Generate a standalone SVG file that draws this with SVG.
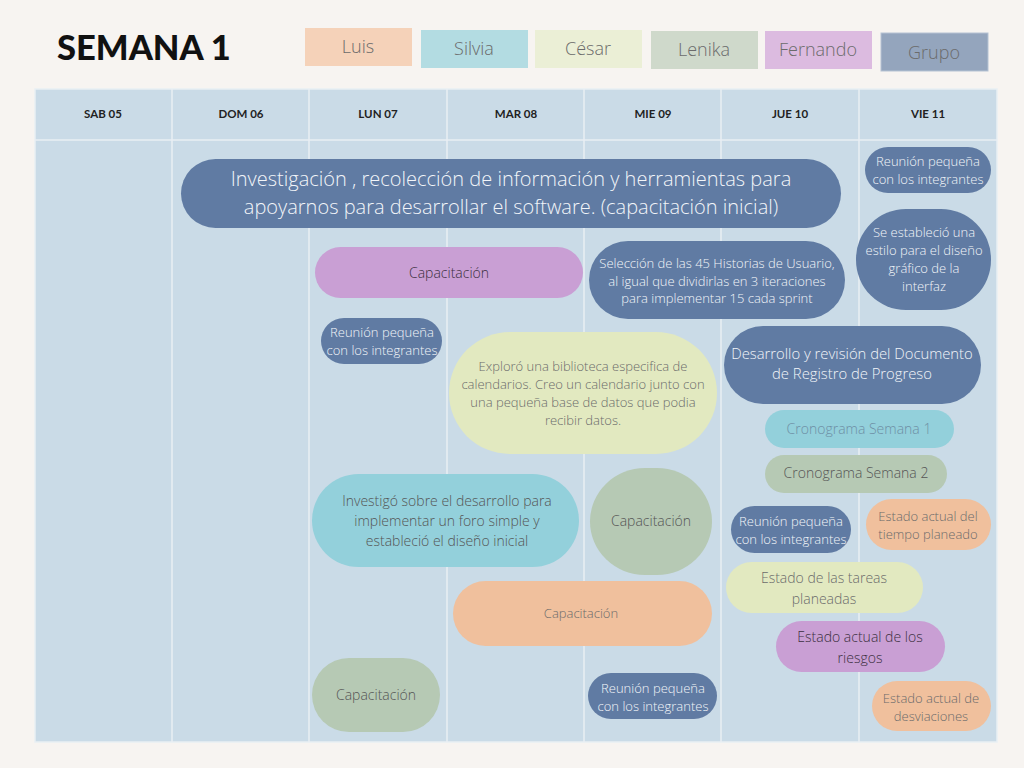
<svg xmlns="http://www.w3.org/2000/svg" width="1024" height="768" viewBox="0 0 1024 768">
<style>
.t{font-family:"Open Sans","Liberation Sans",sans-serif;font-weight:300;text-anchor:middle}
.w{fill:#f2f5f9}
.g{fill:#6b6b6b}
.d{fill:#3b2f40}
.hd{font-family:"Lato","Open Sans","Liberation Sans",sans-serif;font-weight:700;font-size:11.5px;fill:#222;text-anchor:middle}
.grp{fill:#607ba3}
.pur{fill:#c99fd4}
.sil{fill:#93d0db}
.ces{fill:#e2e9c0}
.len{fill:#b6c9b4}
.lui{fill:#f0c09d}
.grid{stroke:#e9eff4;stroke-width:1.5;fill:none}
</style>
<rect width="1024" height="768" fill="#f7f4f1"/>
<text x="57" y="60" font-family="Lato,'Open Sans','Liberation Sans',sans-serif" font-weight="900" font-size="34.5" fill="#111">SEMANA 1</text>
<g id="legend">
<rect x="305" y="28" width="107" height="38" fill="#f5d2b9"/>
<text class="t g" x="358" y="53" font-size="18">Luis</text>
<rect x="421" y="30" width="107" height="38" fill="#b3dce2"/>
<text class="t g" x="474" y="55" font-size="18">Silvia</text>
<rect x="535" y="30" width="107" height="38" fill="#ebefd6"/>
<text class="t g" x="588" y="55" font-size="18">César</text>
<rect x="651" y="31" width="107" height="38" fill="#cfd9cb"/>
<text class="t g" x="704" y="56" font-size="18">Lenika</text>
<rect x="765" y="31" width="107" height="38" fill="#dcbbe0"/>
<text class="t g" x="818" y="56" font-size="18">Fernando</text>
<rect x="881" y="33" width="107" height="38" fill="#94a5bd" stroke="#b5c2d3" stroke-width="1"/>
<text class="t g" x="934" y="59" font-size="18">Grupo</text>
</g>
<g id="table">
<rect x="35" y="89" width="962" height="653" fill="#cadbe7"/>
<path class="grid" d="M35 89H997V742H35Z M35 140H997 M172 89V742 M309 89V742 M447 89V742 M584 89V742 M721 89V742 M859 89V742"/>
<text class="hd" x="103" y="118">SAB 05</text>
<text class="hd" x="241" y="118">DOM 06</text>
<text class="hd" x="378" y="118">LUN 07</text>
<text class="hd" x="516" y="118">MAR 08</text>
<text class="hd" x="653" y="118">MIE 09</text>
<text class="hd" x="790" y="118">JUE 10</text>
<text class="hd" x="928" y="118">VIE  11</text>
</g>
<g id="connectors"/>
<g id="n1">
<rect class="grp" x="181" y="159" width="660" height="69" rx="34.5"/>
<text class="t w" x="511" y="186" font-size="20">Investigación , recolección de información y herramientas para</text>
<text class="t w" x="511" y="214" font-size="20">apoyarnos para desarrollar el software. (capacitación inicial)</text>
</g>
<g id="n2">
<rect class="pur" x="315" y="247" width="268" height="51" rx="25.5"/>
<text class="t d" x="449" y="278" font-size="14">Capacitación</text>
</g>
<g id="n3">
<rect class="grp" x="589" y="241" width="256" height="78" rx="39"/>
<text class="t w" x="717" y="268" font-size="13">Selección de las 45 Historias de Usuario,</text>
<text class="t w" x="717" y="286" font-size="13">al igual que dividirlas en 3 iteraciones</text>
<text class="t w" x="717" y="303" font-size="13">para implementar 15 cada sprint</text>
</g>
<g id="n4">
<rect class="grp" x="865" y="147" width="126" height="46" rx="23"/>
<text class="t w" x="928" y="166" font-size="13">Reunión pequeña</text>
<text class="t w" x="928" y="184" font-size="13">con los integrantes</text>
</g>
<g id="n5">
<rect class="grp" x="856" y="209" width="135" height="101" rx="50"/>
<text class="t w" x="924" y="237" font-size="13" font-weight="400">Se estableció una</text>
<text class="t w" x="924" y="255" font-size="13" font-weight="400">estilo para el diseño</text>
<text class="t w" x="924" y="273" font-size="13" font-weight="400">gráfico de la</text>
<text class="t w" x="924" y="291" font-size="13" font-weight="400">interfaz</text>
</g>
<g id="n6">
<rect class="grp" x="321" y="318" width="121" height="46" rx="23"/>
<text class="t w" x="382" y="337" font-size="13">Reunión pequeña</text>
<text class="t w" x="382" y="355" font-size="13">con los integrantes</text>
</g>
<g id="n7">
<rect class="ces" x="449" y="332" width="268" height="122" rx="61"/>
<text class="t g" x="583" y="371" font-size="13">Exploró una biblioteca especifica de</text>
<text class="t g" x="583" y="389" font-size="13">calendarios. Creo un calendario junto con</text>
<text class="t g" x="583" y="407" font-size="13">una pequeña base de datos que podia</text>
<text class="t g" x="583" y="425" font-size="13">recibir datos.</text>
</g>
<g id="n8">
<rect class="grp" x="724" y="326" width="257" height="78" rx="39"/>
<text class="t w" x="852" y="359" font-size="14.8">Desarrollo y revisión del Documento</text>
<text class="t w" x="852" y="379" font-size="14.8">de Registro de Progreso</text>
</g>
<g id="n9">
<rect class="sil" x="765" y="410" width="189" height="38" rx="19"/>
<text class="t" x="859" y="434" font-size="14" fill="#6e8fa5">Cronograma Semana 1</text>
</g>
<g id="n10">
<rect class="len" x="765" y="455" width="182" height="38" rx="19"/>
<text class="t" x="856" y="478" font-size="14" fill="#555">Cronograma  Semana 2</text>
</g>
<g id="n11">
<rect class="grp" x="731" y="506" width="120" height="47" rx="23.5"/>
<text class="t w" x="791" y="526" font-size="13">Reunión pequeña</text>
<text class="t w" x="791" y="544" font-size="13">con los integrantes</text>
</g>
<g id="n12">
<rect class="lui" x="866" y="499" width="125" height="51" rx="25.5"/>
<text class="t g" x="928" y="521" font-size="13">Estado actual del</text>
<text class="t g" x="928" y="539" font-size="13">tiempo planeado</text>
</g>
<g id="n13">
<rect class="sil" x="312" y="474" width="267" height="93" rx="46.5"/>
<text class="t" x="447" y="506" font-size="14" fill="#555">Investigó sobre el desarrollo para</text>
<text class="t" x="447" y="526" font-size="14" fill="#555">implementar un foro simple y</text>
<text class="t" x="447" y="546" font-size="14" fill="#555">estableció el diseño inicial</text>
</g>
<g id="n14">
<rect class="len" x="590" y="468" width="122" height="107" rx="55"/>
<text class="t" x="651" y="526" font-size="14" fill="#555">Capacitación</text>
</g>
<g id="n15">
<rect class="ces" x="726" y="562" width="197" height="51" rx="25.5"/>
<text class="t g" x="824" y="583" font-size="14">Estado de las tareas</text>
<text class="t g" x="824" y="604" font-size="14">planeadas</text>
</g>
<g id="n16">
<rect class="lui" x="453" y="581" width="259" height="65" rx="32.5"/>
<text class="t g" x="581" y="618" font-size="13">Capacitación</text>
</g>
<g id="n17">
<rect class="pur" x="776" y="621" width="169" height="51" rx="25.5"/>
<text class="t d" x="860" y="642" font-size="14">Estado actual de los</text>
<text class="t d" x="860" y="663" font-size="14">riesgos</text>
</g>
<g id="n18">
<rect class="len" x="312" y="658" width="128" height="74" rx="37"/>
<text class="t" x="376" y="700" font-size="14" fill="#555">Capacitación</text>
</g>
<g id="n19">
<rect class="grp" x="588" y="673" width="129" height="46" rx="23"/>
<text class="t w" x="653" y="693" font-size="13">Reunión pequeña</text>
<text class="t w" x="653" y="711" font-size="13">con los integrantes</text>
</g>
<g id="n20">
<rect class="lui" x="872" y="681" width="119" height="50" rx="25"/>
<text class="t g" x="931" y="703" font-size="13">Estado actual de</text>
<text class="t g" x="931" y="721" font-size="13">desviaciones</text>
</g>
</svg>
